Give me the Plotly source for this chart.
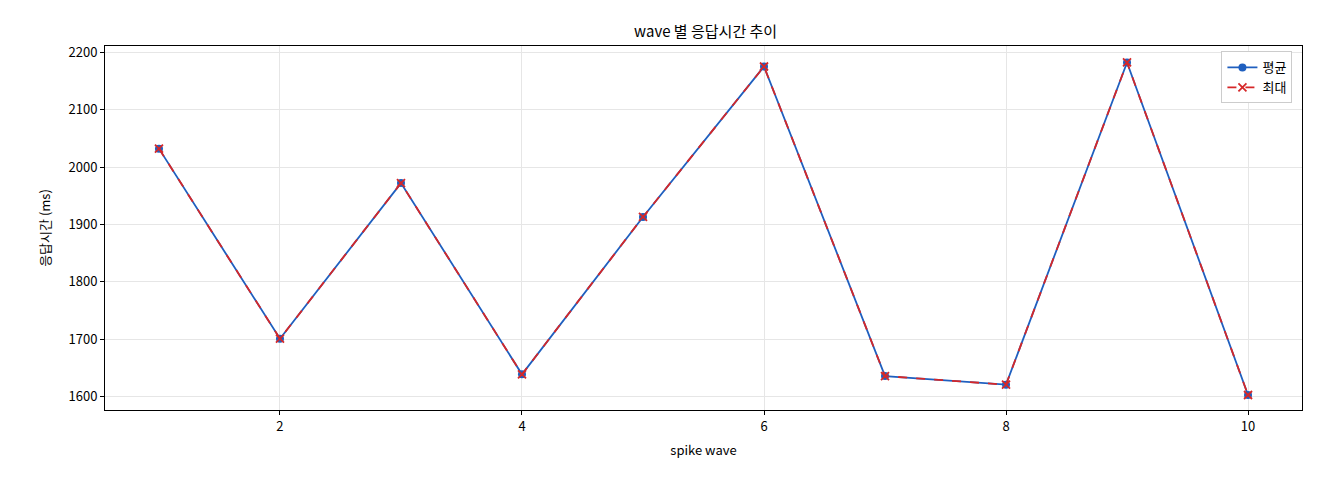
import plotly.graph_objects as go

waves = [1, 2, 3, 4, 5, 6, 7, 8, 9, 10]
avg_ms = [2032, 1701, 1972, 1639, 1913, 2175, 1636, 1621, 2182, 1603]
max_ms = [2032, 1701, 1972, 1639, 1913, 2175, 1636, 1621, 2182, 1603]

FONT = "Noto Sans CJK KR"

fig = go.Figure()
fig.add_trace(go.Scatter(x=waves, y=avg_ms, mode="lines+markers", name="평균",
                         line=dict(color="#1f5fbf", width=1.8),
                         marker=dict(symbol="circle", size=8, color="#1f5fbf")))
fig.add_trace(go.Scatter(x=waves, y=max_ms, mode="lines+markers", name="최대",
                         line=dict(color="#d62728", width=1.8, dash="dash"),
                         marker=dict(symbol="x-thin", size=8, color="#d62728",
                                     line=dict(color="#d62728", width=1.8))))

axis = dict(showline=True, linecolor="black", linewidth=1, mirror=True,
            ticks="outside", ticklen=4, tickcolor="black",
            showgrid=True, gridcolor="#e6e6e6", zeroline=False,
            tickfont=dict(size=13, color="black"))
fig.update_layout(
    width=1304, height=464, plot_bgcolor="white", paper_bgcolor="white",
    font=dict(family=FONT, color="black"),
    title=dict(text="wave 별 응답시간 추이", x=0.535, xanchor="center", y=0.96,
               font=dict(size=15)),
    margin=dict(l=97, r=10, t=38, b=62),
    xaxis=dict(axis, range=[0.554, 10.446], tickvals=[2, 4, 6, 8, 10],
               title=dict(text="spike wave", font=dict(size=13), standoff=12)),
    yaxis=dict(axis, range=[1576.9, 2210.7], dtick=100,
               title=dict(text="응답시간 (ms)", font=dict(size=13), standoff=14)),
    legend=dict(x=0.992, y=0.985, xanchor="right", yanchor="top",
                bordercolor="#cccccc", borderwidth=1, bgcolor="white",
                font=dict(size=13)),
)
fig.write_html("out.html")
